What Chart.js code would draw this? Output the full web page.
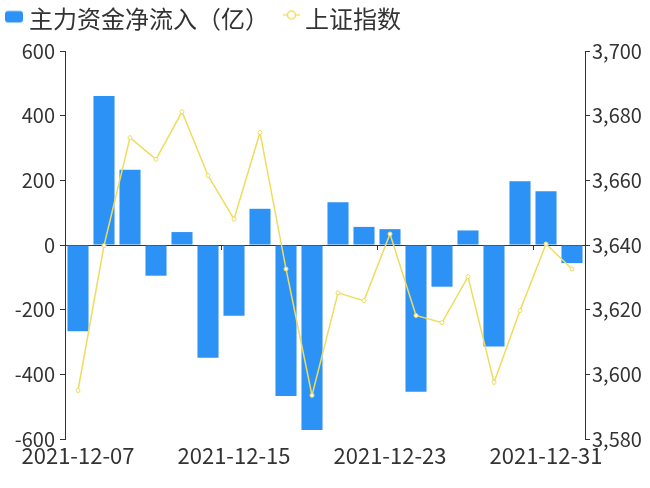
<!DOCTYPE html>
<html>
<head>
<meta charset="utf-8">
<script src="https://cdn.jsdelivr.net/npm/chart.js@4.4.1/dist/chart.umd.min.js"></script>
<style>
  html, body { margin: 0; padding: 0; background: #fff; }
  #wrap { width: 650px; height: 488px; }
</style>
</head>
<body>
<div id="wrap"><canvas id="flowChart" width="650" height="488"></canvas></div>
<script>
// --- DATA ---
const dates = [
  '2021-12-07', '2021-12-08', '2021-12-09', '2021-12-10', '2021-12-13',
  '2021-12-14', '2021-12-15', '2021-12-16', '2021-12-17', '2021-12-20',
  '2021-12-21', '2021-12-22', '2021-12-23', '2021-12-24', '2021-12-27',
  '2021-12-28', '2021-12-29', '2021-12-30', '2021-12-31', '2022-01-04'
];
// 主力资金净流入（亿）
const netInflow = [-267, 461, 233, -95, 40, -349, -219, 112, -467, -572,
                   132, 56, 49, -454, -129, 45, -314, 197, 166, -56];
// 上证指数
const shIndex = [3595.0, 3639.8, 3673.2, 3666.5, 3681.2, 3661.5, 3648.0, 3674.8, 3632.6, 3593.5,
                 3625.2, 3622.8, 3643.4, 3618.2, 3616.0, 3630.2, 3597.5, 3619.7, 3640.3, 3632.6];
const leftTicks = { min: -600, max: 600, step: 200 };
const rightTicks = { min: 3580, max: 3700, step: 20 };

const BLUE = '#2d92f6';
const YELLOW = '#efdc5e';
const AXIS = '#333';
const FONT = '"Noto Sans CJK SC", "Noto Sans", sans-serif';

// --- LEGEND ICONS ---
function barIcon() {
  const c = document.createElement('canvas');
  c.width = 44; c.height = 24;
  const g = c.getContext('2d');
  g.fillStyle = BLUE;
  g.beginPath();
  g.roundRect(18, 4.5, 18, 11.5, 3);
  g.fill();
  return c;
}
function lineIcon() {
  const c = document.createElement('canvas');
  c.width = 44; c.height = 24;
  const g = c.getContext('2d');
  g.strokeStyle = YELLOW;
  g.lineWidth = 1.5;
  g.beginPath();
  g.moveTo(20, 8.5); g.lineTo(37, 8.5);
  g.stroke();
  g.fillStyle = '#fff';
  g.beginPath();
  g.arc(28.5, 8.5, 4, 0, Math.PI * 2);
  g.fill(); g.stroke();
  return c;
}
const icons = [barIcon(), lineIcon()];

// nudge legend into place after layout
const legendShift = {
  id: 'legendShift',
  afterLayout(chart) {
    chart.legend.left -= 7;
    chart.legend.top -= 10.5;
  }
};

// --- CHART ---
const ctx = document.getElementById('flowChart').getContext('2d');
new Chart(ctx, {
  data: {
    labels: dates,
    datasets: [
      {
        type: 'bar',
        label: '主力资金净流入（亿）',
        data: netInflow,
        backgroundColor: BLUE,
        yAxisID: 'y',
        barPercentage: 1,
        categoryPercentage: 0.81,
        order: 2
      },
      {
        type: 'line',
        label: '上证指数',
        data: shIndex,
        borderColor: YELLOW,
        borderWidth: 1.5,
        tension: 0,
        pointRadius: 2,
        pointBackgroundColor: '#fff',
        pointBorderColor: YELLOW,
        pointBorderWidth: 1,
        yAxisID: 'y1',
        order: 1
      }
    ]
  },
  plugins: [legendShift],
  options: {
    responsive: false,
    animation: false,
    devicePixelRatio: 1,
    layout: { padding: { top: 9 } },
    plugins: {
      tooltip: { enabled: false },
      legend: {
        position: 'top',
        align: 'start',
        labels: {
          usePointStyle: true,
          pointStyleWidth: 16,
          padding: 8,
          color: AXIS,
          font: { family: FONT, size: 24 },
          sort: (a, b) => a.datasetIndex - b.datasetIndex,
          generateLabels: (chart) => chart.data.datasets.map((ds, i) => ({
            text: ds.label,
            pointStyle: icons[i],
            fillStyle: 'rgba(0,0,0,0)',
            strokeStyle: 'rgba(0,0,0,0)',
            lineWidth: 0,
            fontColor: AXIS,
            hidden: !chart.isDatasetVisible(i),
            datasetIndex: i
          }))
        }
      }
    },
    scales: {
      x: {
        type: 'category',
        position: 'bottom',
        offset: true,
        grid: { display: false, drawTicks: false },
        border: { display: false },
        ticks: {
          autoSkip: false,
          maxRotation: 0,
          padding: 3,
          color: AXIS,
          font: { family: FONT, size: 22 },
          callback: (v, i) => (i % 6 === 0 ? dates[i] : '')
        },
        afterFit: (s) => { s.height = 49; }
      },
      x2: {
        type: 'category',
        position: { y: 0 },
        offset: true,
        z: 1,
        grid: {
          offset: true,
          drawOnChartArea: false,
          drawTicks: true,
          tickLength: 4,
          tickColor: (c) => (c.index % 6 === 0 && c.index > 0 ? AXIS : 'rgba(0,0,0,0)')
        },
        border: { display: true, color: AXIS, width: 1 },
        ticks: { display: false }
      },
      y: {
        position: 'left',
        min: leftTicks.min,
        max: leftTicks.max,
        grid: { drawOnChartArea: false, drawTicks: true, tickLength: 5, tickColor: AXIS },
        border: { display: true, color: AXIS },
        ticks: {
          stepSize: leftTicks.step,
          padding: 5,
          color: AXIS,
          font: { family: FONT, size: 20 }
        },
        afterFit: (s) => { s.width = 65; }
      },
      y1: {
        position: 'right',
        min: rightTicks.min,
        max: rightTicks.max,
        grid: { drawOnChartArea: false, drawTicks: true, tickLength: 5, tickColor: AXIS },
        border: { display: true, color: AXIS },
        ticks: {
          stepSize: rightTicks.step,
          padding: 2,
          color: AXIS,
          font: { family: FONT, size: 20 },
          callback: (v) => v.toLocaleString('en-US')
        },
        afterFit: (s) => { s.width = 65; }
      }
    }
  }
});
</script>
</body>
</html>
